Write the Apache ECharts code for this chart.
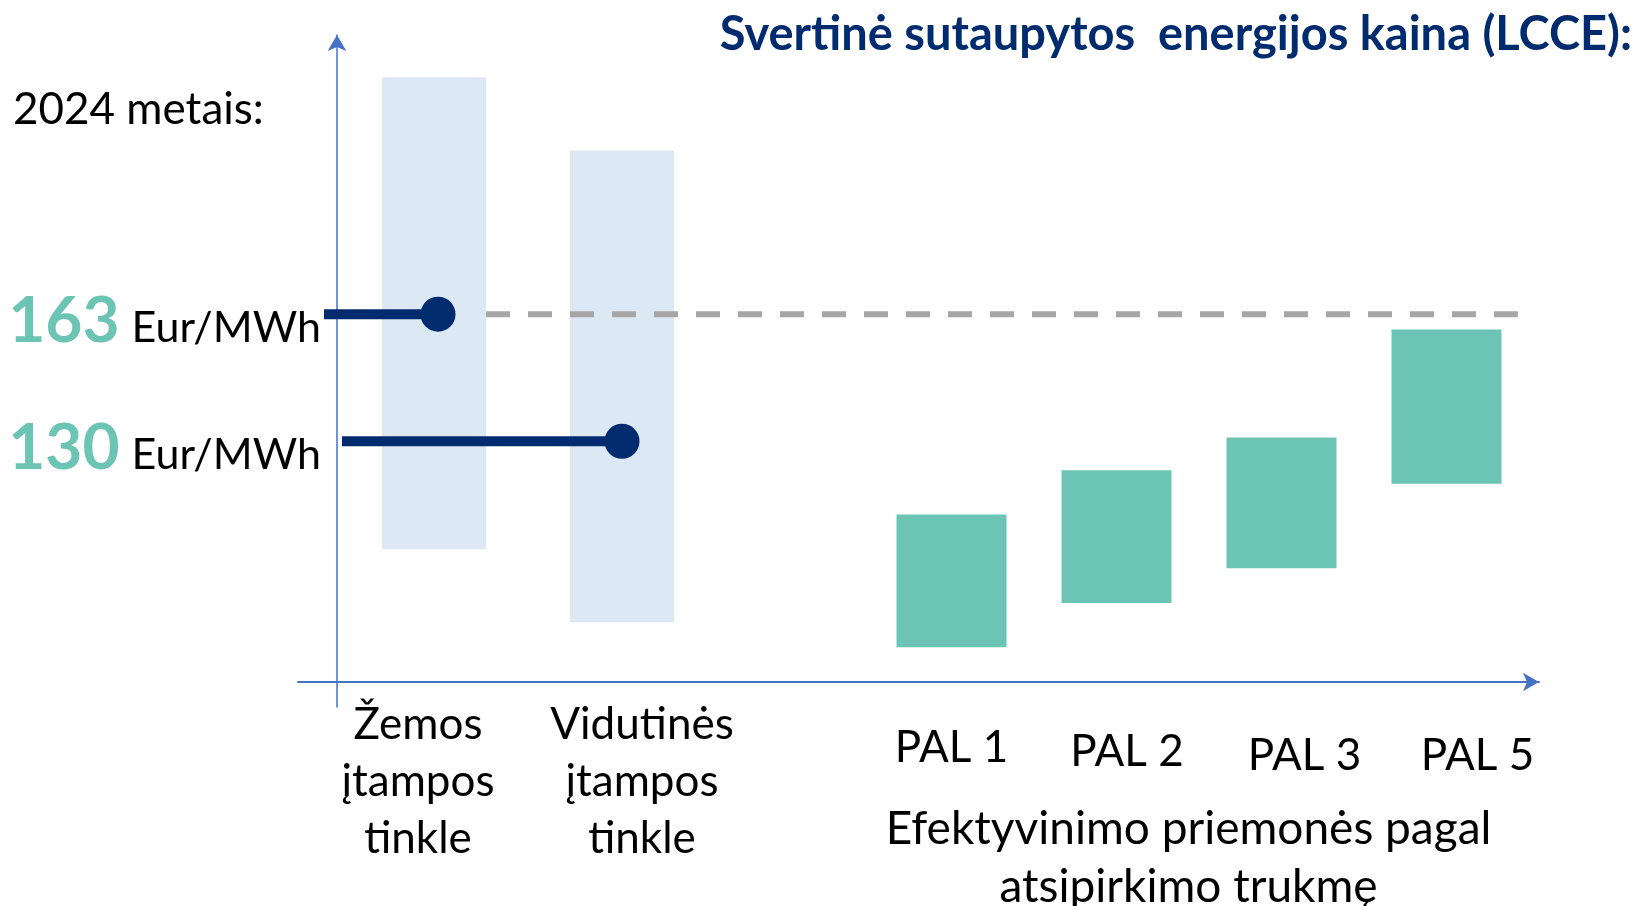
<!DOCTYPE html>
<html>
<head>
<meta charset="utf-8">
<script src="https://cdn.jsdelivr.net/npm/echarts@6/dist/echarts.min.js"></script>
<style>
  html, body { margin: 0; padding: 0; background: #fff; }
  #chart { width: 1637px; height: 906px; }
</style>
</head>
<body>
<div id="chart"></div>
<script>
// grid tariffs (light columns) and the price dot on each
const gridCats = ['Žemos\nįtampos\ntinkle', 'Vidutinės\nįtampos\ntinkle'];
const gridLow = [102, 83];
const gridHigh = [224.5, 205.5];
const gridPrice = [163, 130];

// efficiency measures by payback (green columns)
const palCats = ['PAL 1', 'PAL 2', 'PAL 3', 'PAL 5'];
const palLow = [76.5, 88, 97, 119];
const palHigh = [111, 122.5, 131, 159];

const refPrice = 163;
const priceUnit = 'Eur/MWh';

const FONT = 'Lato';
const NAVY = '#002b6e';
const GREEN = '#6cc5b4';
const PALE = '#dde8f5';
const AXIS = '#4472c4';

const yMin = 61, yMax = 235.5;

function rangeBars(fill, ratio) {
  return function (params, api) {
    const x = api.value(0);
    const top = api.coord([x, api.value(2)]);
    const bot = api.coord([x, api.value(1)]);
    const w = api.size([1, 0])[0] * ratio;
    return {
      type: 'rect',
      shape: { x: top[0] - w / 2, y: top[1], width: w, height: bot[1] - top[1] },
      style: { fill: fill }
    };
  };
}

// small hand nudges so labels / stems sit like in the slide
const stemStart = [-16, 2];
const dotShift = [4, 0];
const groupLabelRich = {
  g0: { fontFamily: FONT, fontSize: 44, lineHeight: 57, color: '#000', padding: [0, 32, 0, 0] },
  g1: { fontFamily: FONT, fontSize: 44, lineHeight: 57, color: '#000', padding: [0, 0, 0, 40] }
};
const palPad = [[0, 0, 0, 0], [4, 0, 0, 21], [8, 0, 0, 46], [8, 0, 0, 62]];
const palLabelRich = {};
palPad.forEach((p, i) => {
  palLabelRich['p' + i] = { fontFamily: FONT, fontSize: 44, color: '#000', padding: p };
});

const chart = echarts.init(document.getElementById('chart'));
const option = {
  animation: false,
  backgroundColor: '#fff',
  title: [
    {
      text: 'Svertinė sutaupytos  energijos kaina (LCCE):',
      right: 0, top: 6,
      textStyle: { fontFamily: FONT, fontSize: 47, fontWeight: 'bold', color: NAVY }
    },
    {
      text: '2024 metais:',
      left: 8, top: 83,
      textStyle: { fontFamily: FONT, fontSize: 44, fontWeight: 'normal', color: '#000' }
    }
  ],
  grid: [
    { left: 298, right: 98, top: 35, bottom: 199, outerBoundsMode: 'none' },
    { left: 340, width: 376, top: 35, bottom: 199, outerBoundsMode: 'none' },
    { left: 869, width: 660, top: 35, bottom: 199, outerBoundsMode: 'none' }
  ],
  xAxis: [
    {
      gridIndex: 0, type: 'value', min: 0, max: 1, offset: -25,
      axisLine: { onZero: false, symbol: ['none', 'arrow'], symbolSize: [14, 16], lineStyle: { color: AXIS, width: 2 } },
      axisTick: { show: false }, axisLabel: { show: false }, splitLine: { show: false }
    },
    {
      gridIndex: 1, type: 'category', data: gridCats, offset: -25,
      axisLine: { show: false }, axisTick: { show: false },
      axisLabel: {
        interval: 0, margin: 14,
        formatter: (v, i) => v.split('\n').map(s => '{g' + i + '|' + s + '}').join('\n'),
        rich: groupLabelRich
      }
    },
    {
      gridIndex: 2, type: 'category', data: palCats, offset: -25,
      axisLine: { show: false }, axisTick: { show: false },
      axisLabel: {
        interval: 0, margin: 44,
        formatter: (v, i) => '{p' + i + '|' + v + '}',
        rich: palLabelRich
      },
      name: 'Efektyvinimo priemonės pagal\natsipirkimo trukmę',
      nameLocation: 'middle', nameGap: 118,
      nameTextStyle: { fontFamily: FONT, fontSize: 46, lineHeight: 58, color: '#000', padding: [0, 21, 0, 0] }
    }
  ],
  yAxis: [
    {
      gridIndex: 0, type: 'value', min: yMin, max: yMax, offset: -39,
      axisLine: { show: true, onZero: false, symbol: ['none', 'arrow'], symbolSize: [14, 16], lineStyle: { color: AXIS, width: 1.5 } },
      axisTick: { show: false }, splitLine: { show: false },
      axisLabel: {
        customValues: gridPrice,
        margin: 16,
        padding: [14, 0, 0, 0],
        formatter: v => '{n|' + v + '}{u|' + priceUnit + '}',
        rich: {
          n: { fontFamily: FONT, fontSize: 64, fontWeight: 'bold', color: GREEN, lineHeight: 70 },
          u: { fontFamily: FONT, fontSize: 43, color: '#000', lineHeight: 70, padding: [14, 0, 0, 12] }
        }
      }
    },
    { gridIndex: 1, type: 'value', min: yMin, max: yMax, show: false },
    { gridIndex: 2, type: 'value', min: yMin, max: yMax, show: false }
  ],
  series: [
    {
      type: 'custom', xAxisIndex: 1, yAxisIndex: 1, z: 1,
      encode: { x: 0, y: [1, 2] },
      renderItem: rangeBars(PALE, 104 / 188),
      data: gridCats.map((c, i) => [i, gridLow[i], gridHigh[i]])
    },
    {
      type: 'custom', xAxisIndex: 2, yAxisIndex: 2,
      encode: { x: 0, y: [1, 2] },
      renderItem: rangeBars(GREEN, 110 / 165),
      data: palCats.map((c, i) => [i, palLow[i], palHigh[i]])
    },
    {
      // dashed reference at the low-voltage price
      type: 'custom', xAxisIndex: 0, yAxisIndex: 0,
      encode: { x: 0, y: 1 },
      renderItem: function (params, api) {
        const cs = params.coordSys;
        const y = api.coord([0, api.value(1)])[1];
        return {
          type: 'line',
          shape: { x1: cs.x + cs.width * 0.1515, y1: y, x2: cs.x + cs.width * 0.983, y2: y },
          style: { stroke: '#a6a6a6', lineWidth: 6, lineDash: [24, 18] }
        };
      },
      data: [[0, refPrice]]
    },
    {
      // price lollipops
      type: 'custom', xAxisIndex: 1, yAxisIndex: 1, z: 5,
      encode: { x: 0, y: 1 },
      renderItem: function (params, api) {
        const i = params.dataIndex;
        const p = api.coord([api.value(0), api.value(1)]);
        const cx = p[0] + dotShift[i];
        return {
          type: 'group',
          children: [
            { type: 'line', shape: { x1: params.coordSys.x + stemStart[i], y1: p[1], x2: cx, y2: p[1] }, style: { stroke: NAVY, lineWidth: 10 } },
            { type: 'circle', shape: { cx: cx, cy: p[1], r: 17.5 }, style: { fill: NAVY } }
          ]
        };
      },
      data: gridPrice.map((v, i) => [i, v])
    }
  ]
};
chart.setOption(option);
</script>
</body>
</html>
